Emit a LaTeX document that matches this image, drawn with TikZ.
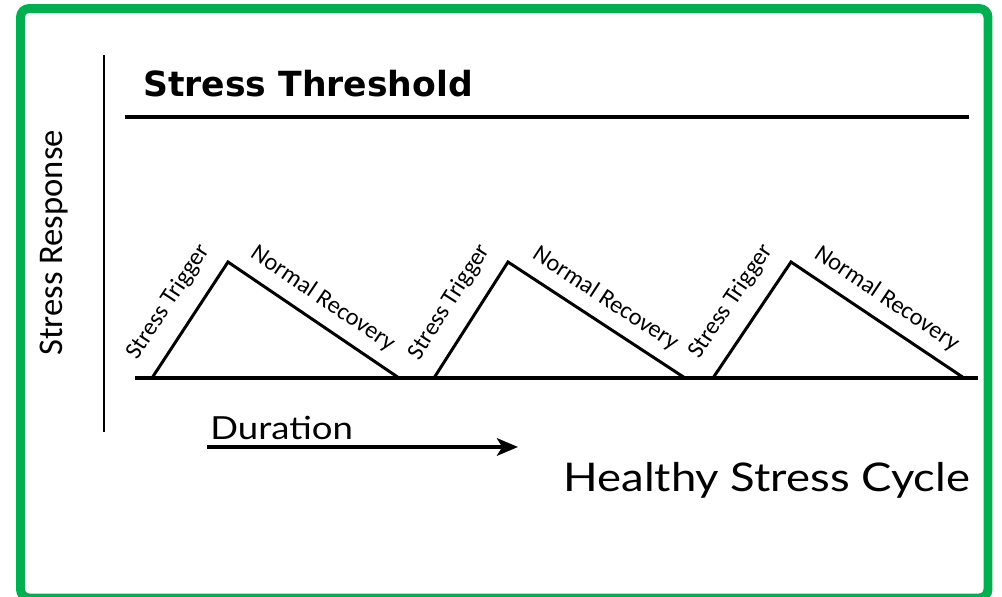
\documentclass[tikz,border=0pt]{standalone}
\usepackage{fontspec}
\setmainfont{Lato}
\newfontfamily\labelfont{Carlito}
\newfontfamily\widefont[FakeStretch=1.15]{Lato}
\newfontfamily\headfont{DejaVu Sans}
\usetikzlibrary{calc, arrows.meta}
\definecolor{framegreen}{RGB}{0,176,80}

\begin{document}
\begin{tikzpicture}[x=0.02cm, y=-0.02cm,
		cycleline/.style={line width=1.7pt, line join=miter},
		steplabel/.style={font=\labelfont\fontsize{13.8}{14}\selectfont, inner sep=0pt},
		bigtitle/.style={font=\widefont\fontsize{22.5}{24}\selectfont, inner sep=0pt}]
	\def\yBase{378};
	\def\yPeak{262};
	
	\useasboundingbox (0,0) rectangle (1002,597);
	
	% green frame, clipped at the bottom
	\begin{scope}
		\clip (0,0) rectangle (1002,597);
		\draw [framegreen, line width=5.1pt, rounded corners=5pt] (20.5,8.5) rectangle (988,598);
	\end{scope}
	
	% axes
	\coordinate (axtop) at (104,55);
	\coordinate (axbot) at (104,432);
	\draw [line width=1.5pt] (axtop) -- (axbot);
	\node [font=\labelfont\fontsize{19.7}{20}\selectfont, rotate=90, inner sep=0pt] (resp) at (54,243) {Stress Response};
	
	\node [inner sep=0pt, font=\headfont\bfseries\fontsize{19.7}{20}\selectfont, anchor=base west] (thresh) at (143,97) {Stress Threshold};
	\coordinate (thL) at (125,117);
	\coordinate (thR) at (969,117);
	\draw [line width=2.3pt] (thL) -- (thR);
	
	\coordinate (baseL) at (135,\yBase);
	\coordinate (baseR) at (978,\yBase);
	\draw [line width=2pt] (baseL) -- (baseR);
	
	% the three cycles
	\foreach \n/\a/\p/\b in {1/152/228/399, 2/434/508/685, 3/713/791/964} {
		\coordinate (foot\n) at (\a,\yBase);
		\coordinate (peak\n) at (\p,\yPeak);
		\coordinate (end\n) at (\b,\yBase);
		\draw [cycleline] (foot\n) -- node [steplabel, pos=0.525, sloped, above=9pt] (trig\n) {Stress Trigger} (peak\n)
			-- node [steplabel, pos=0.48, sloped, above=6.2pt] (rec\n) {Normal Recovery} (end\n);
	}
	
	% duration arrow
	\node [font=\widefont\fontsize{18.1}{20}\selectfont, inner sep=0pt, anchor=base west] (dur) at (210,440) {Duration};
	\coordinate (durL) at (207,447);
	\coordinate (durR) at (518,447);
	\draw [line width=2pt, -{Stealth[length=12pt, width=10pt, inset=3pt]}] (durL) -- (durR);
	
	\node [bigtitle, anchor=base west] (cycle) at (563,492) {Healthy Stress Cycle};
\end{tikzpicture}
\end{document}
